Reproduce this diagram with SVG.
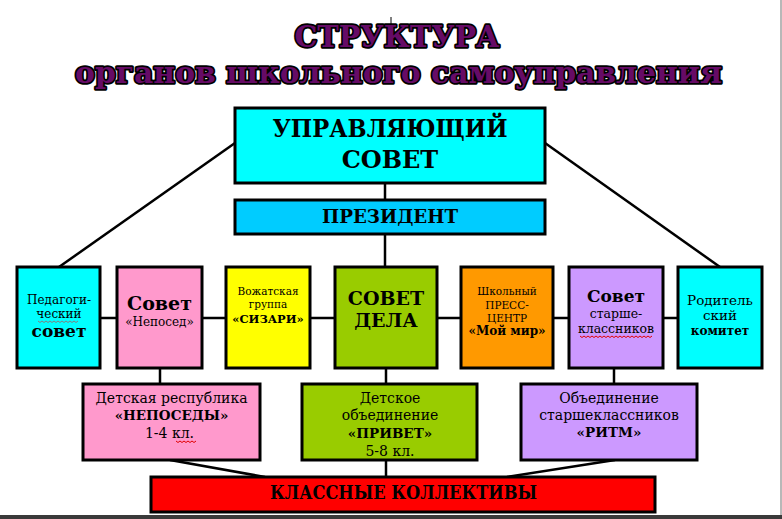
<svg xmlns="http://www.w3.org/2000/svg" width="782" height="519" viewBox="0 0 782 519">
<style>
.box{stroke:#000;stroke-width:3}
.ln{stroke:#000;stroke-width:2.5;fill:none}
.t{font-family:"DejaVu Serif","Liberation Serif",serif;fill:#000;text-anchor:middle}
.b{font-weight:bold}
.title{font-family:"DejaVu Serif","Liberation Serif",serif;font-weight:bold;fill:#660b66;stroke:#000;stroke-width:3.5;paint-order:stroke;stroke-linejoin:round;text-anchor:middle}
.wavy{fill:none;stroke-width:1}
</style>
<rect x="0" y="0" width="782" height="519" fill="#fff"/>
<rect x="780" y="0" width="2" height="519" fill="#b8b8b8"/>
<rect x="0" y="515" width="782" height="4" fill="#3a3a3a"/>
<line x1="391" y1="17" x2="391" y2="25" stroke="#000" stroke-width="1"/>

<g id="title">
<text class="title" x="397" y="47" font-size="30" textLength="205" lengthAdjust="spacingAndGlyphs">СТРУКТУРА</text>
<text class="title" x="398.5" y="83" font-size="30" textLength="647" lengthAdjust="spacingAndGlyphs">органов школьного самоуправления</text>
</g>

<g id="connectors">
<line class="ln" x1="235" y1="143" x2="59" y2="267"/>
<line class="ln" x1="545" y1="143" x2="720" y2="267"/>
<line class="ln" x1="385" y1="183" x2="385" y2="200"/>
<line class="ln" x1="385" y1="234" x2="385" y2="267"/>
<line class="ln" x1="100" y1="318" x2="678" y2="318"/>
<line class="ln" x1="160" y1="368" x2="160" y2="384"/>
<line class="ln" x1="386" y1="368" x2="386" y2="384"/>
<line class="ln" x1="614" y1="368" x2="614" y2="384"/>
<line class="ln" x1="170" y1="460" x2="265" y2="477"/>
<line class="ln" x1="386" y1="460" x2="386" y2="477"/>
<line class="ln" x1="615" y1="460" x2="507" y2="477"/>
</g>

<g id="upr-sovet">
<rect class="box" x="235" y="108" width="310" height="75" fill="#00ffff"/>
<text class="t b" x="390" y="137" font-size="24" textLength="235" lengthAdjust="spacingAndGlyphs">УПРАВЛЯЮЩИЙ</text>
<text class="t b" x="390" y="168" font-size="24">СОВЕТ</text>
</g>

<g id="president">
<rect class="box" x="235" y="200" width="310" height="34" fill="#00ccff"/>
<text class="t b" x="390" y="223" font-size="18" textLength="136" lengthAdjust="spacingAndGlyphs">ПРЕЗИДЕНТ</text>
</g>

<g id="ped-sovet">
<rect class="box" x="17" y="267" width="83" height="101" fill="#00ffff"/>
<text class="t" x="59" y="304" font-size="12">Педагоги-</text>
<text class="t" x="59" y="318" font-size="12">ческий</text>
<path class="wavy" stroke="#808080" d="M38 321 l2 1.5 l2 -1.5 l2 1.5 l2 -1.5 l2 1.5 l2 -1.5 l2 1.5 l2 -1.5 l2 1.5 l2 -1.5 l2 1.5 l2 -1.5 l2 1.5 l2 -1.5 l2 1.5 l2 -1.5 l2 1.5 l2 -1.5 l2 1.5 l2 -1.5"/>
<text class="t b" x="59" y="337" font-size="17">совет</text>
</g>

<g id="sovet-neposed">
<rect class="box" x="117" y="267" width="85" height="101" fill="#ff99cc"/>
<text class="t b" x="159.5" y="310" font-size="19">Совет</text>
<text class="t" x="159.5" y="326" font-size="12">«Непосед»</text>
</g>

<g id="vozhatskaya">
<rect class="box" x="226" y="267" width="84" height="101" fill="#ffff00"/>
<text class="t" x="268" y="295" font-size="10.5">Вожатская</text>
<text class="t" x="268" y="308" font-size="10.5">группа</text>
<text class="t b" x="268" y="323" font-size="11.5">«СИЗАРИ»</text>
</g>

<g id="sovet-dela">
<rect class="box" x="335" y="267" width="102" height="101" fill="#99cc00"/>
<text class="t b" x="386" y="305" font-size="19">СОВЕТ</text>
<text class="t b" x="386" y="327" font-size="19">ДЕЛА</text>
</g>

<g id="press-center">
<rect class="box" x="461" y="267" width="92" height="101" fill="#ff9900"/>
<text class="t" x="507" y="295" font-size="10.5">Школьный</text>
<text class="t" x="507" y="309" font-size="10.5">ПРЕСС-</text>
<text class="t" x="507" y="322" font-size="10.5">ЦЕНТР</text>
<text class="t b" x="507" y="335" font-size="12">«Мой мир»</text>
</g>

<g id="sovet-starshe">
<rect class="box" x="569" y="267" width="94" height="101" fill="#cc99ff"/>
<text class="t b" x="616" y="302" font-size="17">Совет</text>
<text class="t" x="616" y="318" font-size="12.5">старше-</text>
<text class="t" x="616" y="333" font-size="12.5">классников</text>
<path class="wavy" stroke="#e00000" d="M580 336 l2 1.5 l2 -1.5 l2 1.5 l2 -1.5 l2 1.5 l2 -1.5 l2 1.5 l2 -1.5 l2 1.5 l2 -1.5 l2 1.5 l2 -1.5 l2 1.5 l2 -1.5 l2 1.5 l2 -1.5 l2 1.5 l2 -1.5 l2 1.5 l2 -1.5 l2 1.5 l2 -1.5 l2 1.5 l2 -1.5 l2 1.5 l2 -1.5 l2 1.5 l2 -1.5 l2 1.5 l2 -1.5 l2 1.5 l2 -1.5 l2 1.5 l2 -1.5 l2 1.5 l2 -1.5"/>
</g>

<g id="roditelskiy">
<rect class="box" x="678" y="267" width="84" height="101" fill="#00ffff"/>
<text class="t" x="720" y="305" font-size="13.5">Родитель</text>
<text class="t" x="720" y="320" font-size="13.5">ский</text>
<text class="t b" x="720" y="335" font-size="12">комитет</text>
</g>

<g id="neposedy">
<rect class="box" x="83" y="384" width="177" height="76" fill="#ff99cc"/>
<text class="t" x="171.5" y="403" font-size="14">Детская республика</text>
<text class="t b" x="171.5" y="420" font-size="13.5">«НЕПОСЕДЫ»</text>
<text class="t" x="169.5" y="438" font-size="14">1-4 кл.</text>
<path class="wavy" stroke="#e00000" d="M176 441 l2 1.5 l2 -1.5 l2 1.5 l2 -1.5 l2 1.5 l2 -1.5 l2 1.5 l2 -1.5 l2 1.5 l2 -1.5"/>
</g>

<g id="privet">
<rect class="box" x="302" y="384" width="175" height="76" fill="#99cc00"/>
<text class="t" x="390" y="403" font-size="14">Детское</text>
<text class="t" x="390" y="420" font-size="14">объединение</text>
<text class="t b" x="390" y="438" font-size="13.5">«ПРИВЕТ»</text>
<text class="t" x="390" y="456" font-size="14">5-8 кл.</text>
</g>

<g id="ritm">
<rect class="box" x="521" y="384" width="176" height="76" fill="#cc99ff"/>
<text class="t" x="609" y="403" font-size="14">Объединение</text>
<text class="t" x="609" y="420" font-size="14">старшеклассников</text>
<text class="t b" x="609" y="437" font-size="13.5">«РИТМ»</text>
</g>

<g id="klassnye">
<rect class="box" x="151" y="477" width="504" height="35" fill="#ff0000"/>
<text class="t b" x="403.5" y="499" font-size="18" textLength="267" lengthAdjust="spacingAndGlyphs">КЛАССНЫЕ КОЛЛЕКТИВЫ</text>
</g>
</svg>
